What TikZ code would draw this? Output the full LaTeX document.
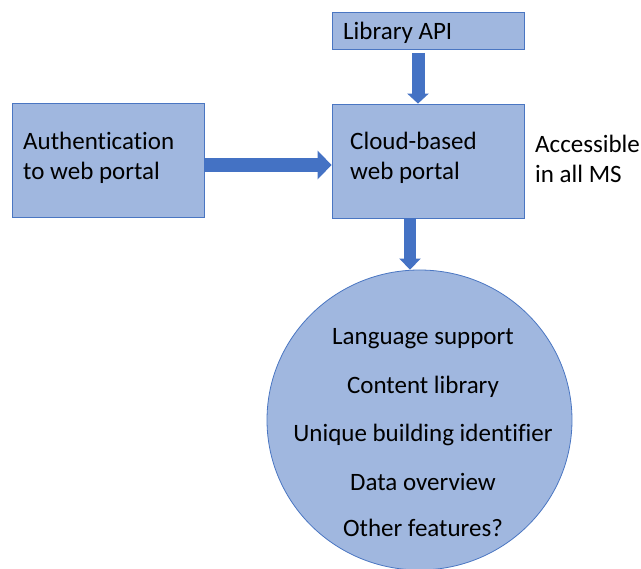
\documentclass[tikz,border=0pt]{standalone}
\usepackage{fontspec}
\setmainfont[Ligatures=NoCommon]{Carlito}
\usetikzlibrary{arrows.meta,shapes.geometric}
\definecolor{boxfill}{HTML}{A0B7DF}
\definecolor{boxline}{HTML}{4A76C2}
\definecolor{arrowblue}{HTML}{4472C4}
\begin{document}
\begin{tikzpicture}[x=1pt,y=-1pt,
  box/.style={draw=boxline,line width=0.8pt,fill=boxfill,inner sep=0pt},
  lbl/.style={font=\fontsize{25}{30}\selectfont,align=left,anchor=west,inner sep=0pt},
  feat/.style={font=\fontsize{25}{30}\selectfont,inner sep=0pt}]
\useasboundingbox (0,0) rectangle (641,569);
\node[box,minimum width=192pt,minimum height=37pt] (lib) at (428,31) {};
\node[box,minimum width=192pt,minimum height=114pt] (cloud) at (428,161) {};
\node[box,minimum width=192pt,minimum height=114pt] (auth) at (108,160) {};
\node[ellipse,draw=boxline,line width=0.8pt,fill=boxfill,minimum width=305pt,minimum height=300pt,inner sep=0pt] (circ) at (419.5,420) {};
\node[lbl] (libt) at (343,33) {Library API};
\node[lbl] (cloudt) at (350,158) {Cloud-based\\web portal};
\node[lbl] (autht) at (23,158) {Authentication\\to web portal};
\node[lbl] (acc) at (535,159) {Accessible\\in all MS};
\node[feat] (f1) at (423,339) {Language support};
\node[feat] (f2) at (423,387) {Content library};
\node[feat] (f3) at (423,435) {Unique building identifier};
\node[feat] (f4) at (423,482) {Data overview};
\node[feat] (f5) at (423,528) {Other features?};
\draw[draw=arrowblue,line width=14pt,-{Triangle[width=28pt,length=14pt]}] (auth.east) ++(0,5) coordinate (a0) -- (a0 -| cloud.west);
\draw[draw=arrowblue,line width=13pt,-{Triangle[width=21pt,length=10pt]}] (lib.south) ++(-10,3) coordinate (b0) -- (b0 |- cloud.north);
\draw[draw=arrowblue,line width=12pt,-{Triangle[width=21pt,length=11pt]}] (cloud.south) ++(-18,0) coordinate (c0) -- (c0 |- circ.north);
\end{tikzpicture}
\end{document}
